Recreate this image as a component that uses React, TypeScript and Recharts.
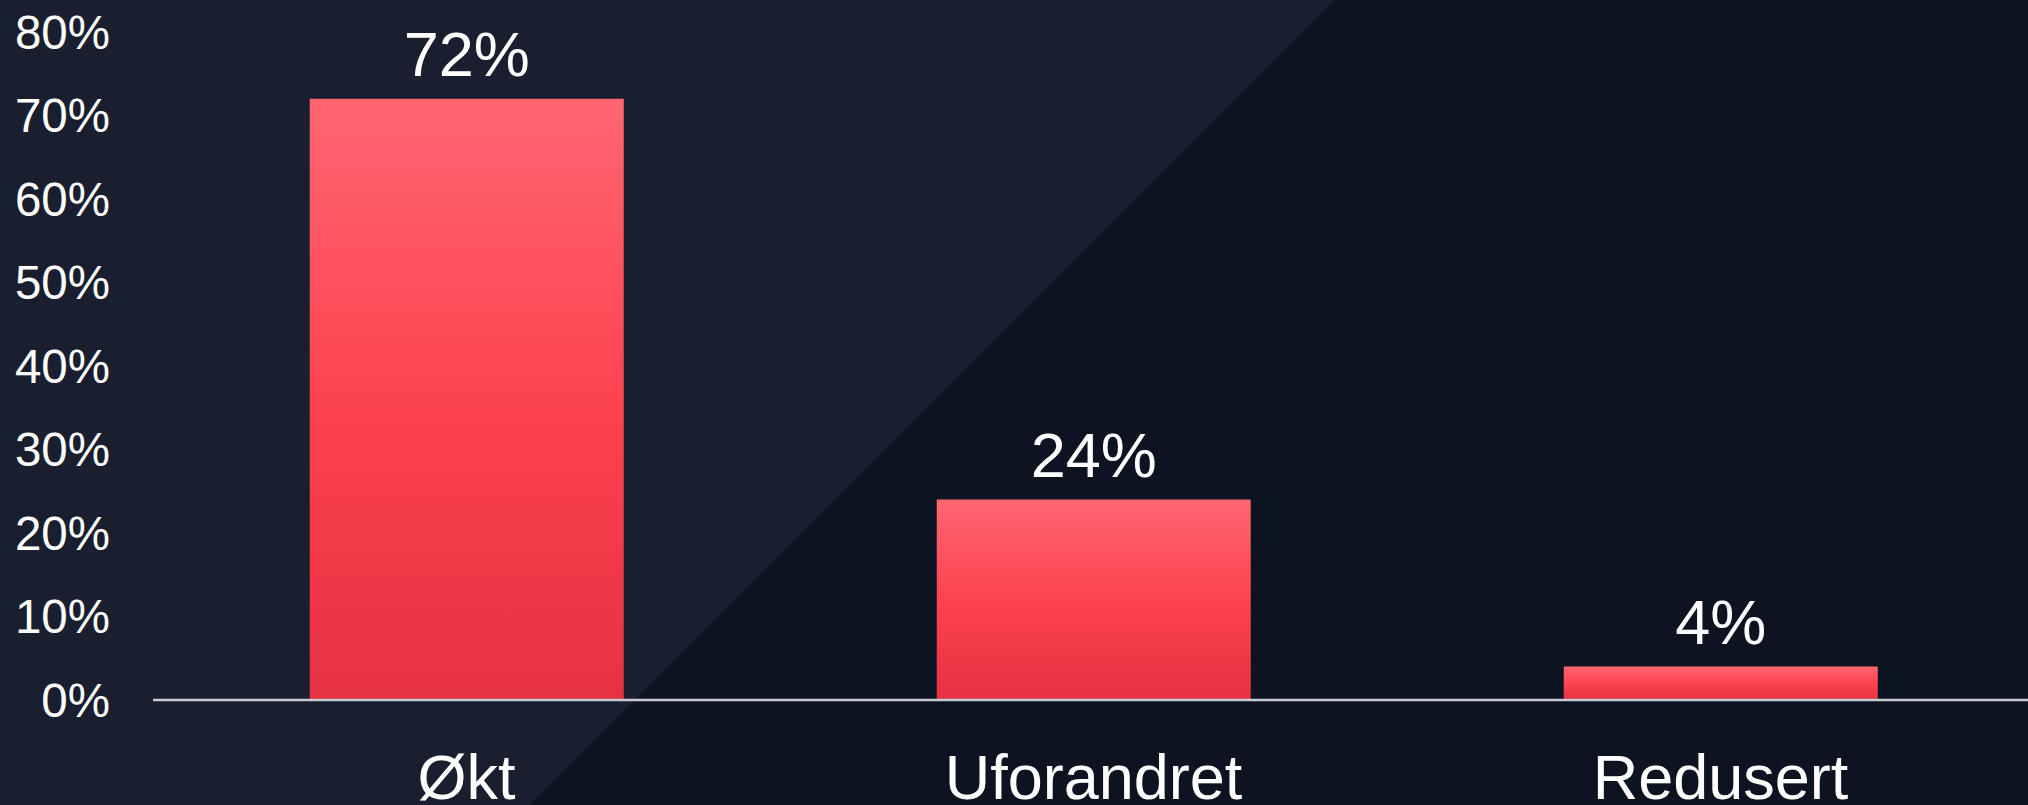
import { BarChart, Bar, XAxis, YAxis, LabelList } from "recharts"

// Svar fordelt på kategori
const categories = ["Økt", "Uforandret", "Redusert"]
const shares = [72, 24, 4]
const yTicks = [0, 10, 20, 30, 40, 50, 60, 70, 80]

const data = categories.map((name, i) => ({ name, value: shares[i] }))

const FONT = "'Liberation Sans', Arial, sans-serif"

export default function App() {
  return (
    <div
      style={{
        position: "fixed",
        left: 0,
        top: 0,
        width: 2028,
        height: 805,
        overflow: "hidden",
        background: "#0d1321",
        fontFamily: FONT,
      }}
    >
      {/* lysere diagonalt felt til venstre */}
      <div
        style={{
          position: "absolute",
          inset: 0,
          background: "#1a1f30",
          clipPath: "polygon(0 0, 1335px 0, 530px 805px, 0 805px)",
        }}
      />
      <div style={{ position: "absolute", left: 0, top: 0 }}>
        <BarChart
          width={2028}
          height={805}
          data={data}
          margin={{ top: 32, right: -6, bottom: 0, left: 0 }}
          barCategoryGap="25%"
        >
          <defs>
            <linearGradient id="barFill" x1="0" y1="0" x2="0" y2="1">
              <stop offset="0%" stopColor="#ff6670" />
              <stop offset="55%" stopColor="#fc404e" />
              <stop offset="100%" stopColor="#e53242" />
            </linearGradient>
          </defs>
          <XAxis
            dataKey="name"
            height={105}
            axisLine={{ stroke: "#c8cbd3", strokeWidth: 2.5 }}
            tickLine={false}
            tickSize={0}
            tickMargin={54}
            tick={{ fill: "#ffffff", fontSize: 63, fontFamily: FONT }}
            interval={0}
          />
          <YAxis
            width={153}
            domain={[0, 80]}
            ticks={yTicks}
            axisLine={false}
            tickLine={false}
            tickSize={0}
            tickMargin={43}
            tickFormatter={(v) => `${v}%`}
            tick={{ fill: "#ffffff", fontSize: 47.5, fontFamily: FONT }}
          />
          <Bar dataKey="value" fill="url(#barFill)" isAnimationActive={false}>
            <LabelList
              dataKey="value"
              position="top"
              offset={23}
              formatter={(v: number) => `${v}%`}
              style={{ fill: "#ffffff", fontSize: 63, fontFamily: FONT }}
            />
          </Bar>
        </BarChart>
      </div>
    </div>
  )
}
